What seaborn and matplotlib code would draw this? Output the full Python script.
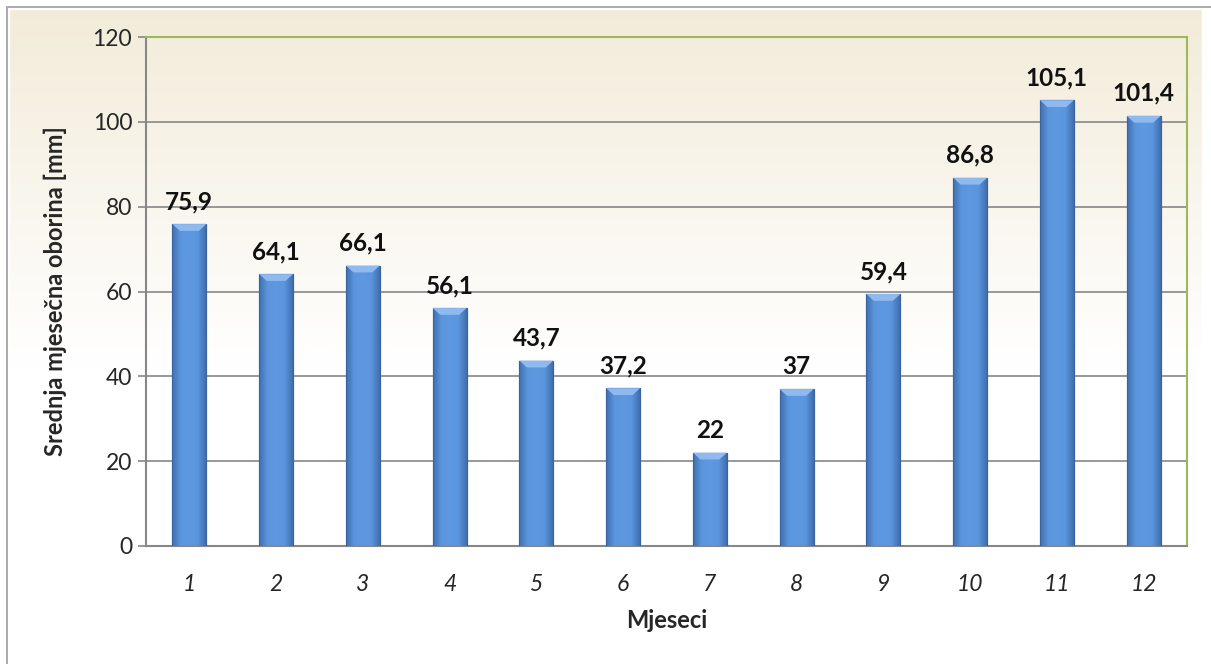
import numpy as np
import pandas as pd
import matplotlib
matplotlib.use('Agg')
import matplotlib.pyplot as plt
import seaborn as sns
from matplotlib.colors import LinearSegmentedColormap
from matplotlib.patches import Rectangle

months = ['1', '2', '3', '4', '5', '6', '7', '8', '9', '10', '11', '12']
rain = [75.9, 64.1, 66.1, 56.1, 43.7, 37.2, 22, 37, 59.4, 86.8, 105.1, 101.4]
labels = ['75,9', '64,1', '66,1', '56,1', '43,7', '37,2', '22', '37', '59,4', '86,8', '105,1', '101,4']
yticks = [0, 20, 40, 60, 80, 100, 120]

df = pd.DataFrame({'mjesec': months, 'oborina': rain})

sns.set_theme(style='white')
plt.rcParams['font.family'] = ['Lato', 'DejaVu Sans']

W, H = 1211, 664
fig = plt.figure(figsize=(W / 100, H / 100), dpi=100)

# background gradient (cream -> white)
bg = fig.add_axes([0, 0, 1, 1], zorder=-10)
grad = np.linspace(0, 1, 256).reshape(-1, 1)
bg_cmap = LinearSegmentedColormap.from_list('bg', [(0, '#f2ebd8'), (0.55, '#ffffff'), (1, '#ffffff')])
bg.imshow(grad, aspect='auto', cmap=bg_cmap, extent=[0, 1, 0, 1], origin='upper')
bg.set_xlim(0, 1)
bg.set_ylim(0, 1)
bg.axis('off')
# white strip outside the chart border
bg.add_patch(Rectangle((0, 0), 1, 1, fill=False, ec='white', lw=14, transform=bg.transAxes, clip_on=False))
bg.add_patch(Rectangle((7 / W, -0.05), 1.1, 1 - 7 / H + 0.05, fill=False, ec='#a5a5a5', lw=1.3,
                       transform=bg.transAxes, clip_on=False))

ax = fig.add_axes([146 / W, 118 / H, (1187 - 146) / W, (546 - 37) / H])
ax.patch.set_alpha(0)

sns.barplot(data=df, x='mjesec', y='oborina', color='#4f86d0', width=0.39, ax=ax,
            edgecolor='#3a64a0', linewidth=0.8, zorder=3)

# 3D-like shading on the bars
bar_cmap = LinearSegmentedColormap.from_list('bar', ['#3f6eae', '#5b95dd', '#5e98e0', '#5b95dd', '#3f6eae'])
hg = np.linspace(0, 1, 256).reshape(1, -1)
for p in ax.patches:
    x0, w, h = p.get_x(), p.get_width(), p.get_height()
    im = ax.imshow(hg, aspect='auto', cmap=bar_cmap, extent=[x0, x0 + w, 0, h], zorder=4)
    im.set_clip_path(p)
    ax.add_patch(Rectangle((x0, 0), w, h, fill=False, ec='#3a64a0', lw=0.8, zorder=5))
    ax.fill([x0, x0 + w, x0 + w * 0.78, x0 + w * 0.22], [h, h, h - 1.6, h - 1.6],
            color='#8fbaf0', zorder=5, lw=0)

for i, (v, t) in enumerate(zip(rain, labels)):
    ax.text(i, v + 2.6, t, ha='center', va='bottom', fontsize=17.5, fontweight='bold', color='#111111')

ax.set_xlim(-0.5, 11.5)
ax.set_ylim(0, 120)
ax.set_yticks(yticks)
ax.yaxis.grid(True, color='#878787', lw=1.2, zorder=0)
ax.set_axisbelow(True)
ax.tick_params(axis='y', left=True, length=6, width=1.2, color='#878787', labelsize=16.5, pad=4)
ax.tick_params(axis='x', bottom=False, labelsize=16.5, pad=14)
for lab in ax.get_xticklabels():
    lab.set_fontstyle('italic')

for s in ['left', 'bottom']:
    ax.spines[s].set_color('#878787')
    ax.spines[s].set_linewidth(1.5)
for s in ['top', 'right']:
    ax.spines[s].set_color('#9bbb59')
    ax.spines[s].set_linewidth(1.5)

ax.set_xlabel('Mjeseci', fontsize=17, fontweight='bold', labelpad=10)
ax.set_ylabel('Srednja mjesečna oborina [mm]', fontsize=17, fontweight='bold', labelpad=18)

fig.savefig('out.png', dpi=100)
